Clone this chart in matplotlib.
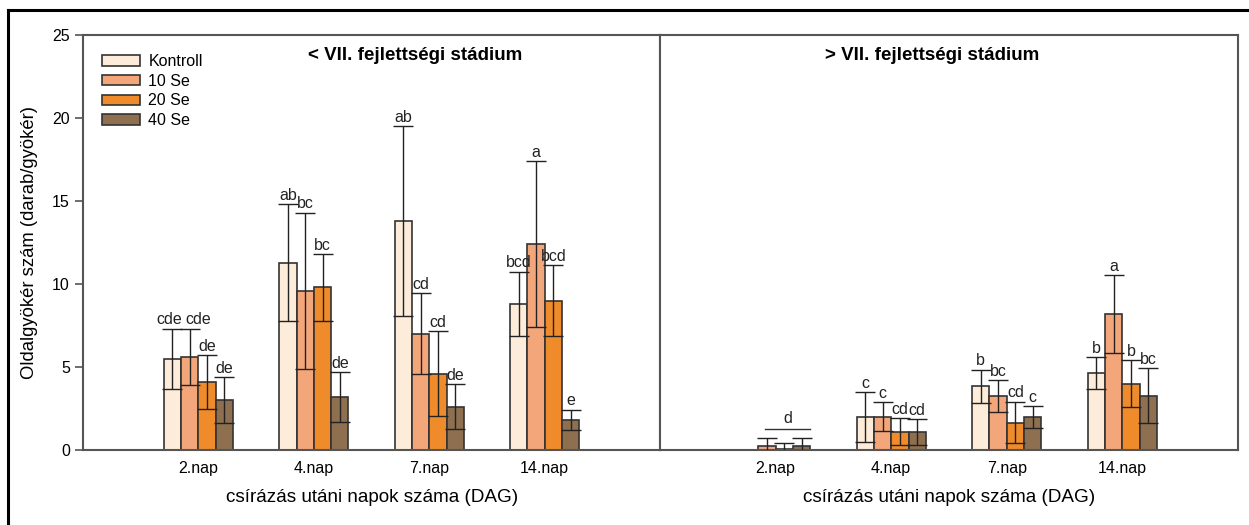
import numpy as np
import matplotlib
matplotlib.use("Agg")
import matplotlib.pyplot as plt
from matplotlib.patches import Patch
from matplotlib.lines import Line2D

plt.rcParams["font.family"] = ["Liberation Sans", "DejaVu Sans"]

napok = ["2.nap", "4.nap", "7.nap", "14.nap"]
kezelesek = ["Kontroll", "10 Se", "20 Se", "40 Se"]
szinek = ["#fdecd9", "#f4a67b", "#ef8b2b", "#8e7050"]

# < VII. stadium: atlag es szoras (sorok = kezeles, oszlopok = nap)
bal_atlag = [[5.5, 11.3, 13.8, 8.8],
             [5.6, 9.6, 7.0, 12.4],
             [4.1, 9.8, 4.6, 9.0],
             [3.0, 3.2, 2.6, 1.8]]
bal_szoras = [[1.8, 3.5, 5.7, 1.95],
              [1.7, 4.7, 2.45, 5.0],
              [1.6, 2.0, 2.55, 2.15],
              [1.4, 1.5, 1.35, 0.62]]
bal_betuk = [["cde", "ab", "ab", "bcd"],
             ["cde", "bc", "cd", "a"],
             ["de", "bc", "cd", "bcd"],
             ["de", "de", "de", "e"]]

# > VII. stadium
jobb_atlag = [[0.0, 2.0, 3.85, 4.65],
              [0.25, 2.0, 3.25, 8.2],
              [0.06, 1.1, 1.65, 4.0],
              [0.25, 1.06, 2.0, 3.27]]
jobb_szoras = [[0.0, 1.5, 1.0, 0.95],
               [0.45, 0.87, 0.97, 2.33],
               [0.38, 0.83, 1.25, 1.42],
               [0.45, 0.78, 0.65, 1.67]]
jobb_betuk = [["", "c", "b", "b"],
              ["", "c", "bc", "a"],
              ["", "cd", "cd", "b"],
              ["", "cd", "c", "bc"]]
jobb_csoport_betu = "d"
jobb_csoport_szint = 1.27

fig = plt.figure(figsize=(12.49, 5.25), dpi=100)
ax1 = fig.add_axes([0.0665, 0.1429, 0.462, 0.790])
ax2 = fig.add_axes([0.5284, 0.1429, 0.4628, 0.790])

x = np.arange(1, len(napok) + 1)
w = 0.15

# betuk vizszintes eltolasa (pont), hogy ne takarjak egymast
eltolas = {(1, 0): 6, (0, 0): -2}


def rajzol(ax, atlag, szoras, betuk, elt):
    for i in range(len(kezelesek)):
        xi = x + (i - 1.5) * w
        m = np.array(atlag[i])
        s = np.array(szoras[i])
        ax.bar(xi, m, width=w, color=szinek[i], edgecolor="#333333",
               linewidth=1.2, label=kezelesek[i], zorder=2)
        van = s > 0
        ax.errorbar(xi[van], m[van], yerr=s[van], fmt="none", ecolor="#222222",
                    elinewidth=1, capsize=7, capthick=1, zorder=3)
        for j in range(len(napok)):
            if betuk[i][j]:
                ax.annotate(betuk[i][j], (xi[j], m[j] + s[j]),
                            xytext=(elt.get((i, j), 0), 1),
                            textcoords="offset points", ha="center", va="bottom",
                            fontsize=11.5, color="#222222")
    ax.set_xlim(0, 5)
    ax.set_ylim(0, 25)
    ax.set_xticks(x)
    ax.set_xticklabels(napok, fontsize=11.5)
    ax.tick_params(axis="x", length=0, pad=8)
    ax.set_xlabel("csírázás utáni napok száma (DAG)", fontsize=13.6, labelpad=9)
    for sp in ax.spines.values():
        sp.set_color("#555555")
        sp.set_linewidth(1.5)


rajzol(ax1, bal_atlag, bal_szoras, bal_betuk, eltolas)
rajzol(ax2, jobb_atlag, jobb_szoras, jobb_betuk, {})

ax1.set_yticks([0, 5, 10, 15, 20, 25])
ax1.tick_params(axis="y", labelsize=11.5, length=6, width=1.2, color="#555555")
ax1.set_ylabel("Oldalgyökér szám (darab/gyökér)", fontsize=13.3, labelpad=10)
ax2.tick_params(axis="y", left=False, labelleft=False)

# kozos betu a 2. napra
x0 = x[0] - 0.5 * w - 0.1 * w
x1 = x[0] + 2 * w
ax2.plot([x0, x1], [jobb_csoport_szint, jobb_csoport_szint], color="#333333", lw=1)
ax2.annotate(jobb_csoport_betu, ((x0 + x1) / 2, jobb_csoport_szint), xytext=(0, 2),
             textcoords="offset points", ha="center", va="bottom", fontsize=11.5,
             color="#222222")

ax1.text(0.575, 0.952, "< VII. fejlettségi stádium", transform=ax1.transAxes,
         ha="center", va="center", fontsize=13.5, fontweight="bold")
ax2.text(0.471, 0.952, "> VII. fejlettségi stádium", transform=ax2.transAxes,
         ha="center", va="center", fontsize=13.5, fontweight="bold")

kezek = [Patch(facecolor=szinek[i], edgecolor="#333333", linewidth=1.2)
         for i in range(len(kezelesek))]
ax1.legend(kezek, kezelesek, loc="upper left", bbox_to_anchor=(0.033, 0.955),
           frameon=False, fontsize=11.5, handlelength=2.4, handleheight=0.65,
           handletextpad=0.5, labelspacing=0.3, borderpad=0, borderaxespad=0)

# kulso keret
fig.add_artist(Line2D([0.0064, 1.0], [0.981, 0.981], color="black", lw=2.2,
                      transform=fig.transFigure))
fig.add_artist(Line2D([0.0064, 0.0064], [0.0, 0.981], color="black", lw=2.2,
                      transform=fig.transFigure))

fig.savefig("out.png", dpi=100)
